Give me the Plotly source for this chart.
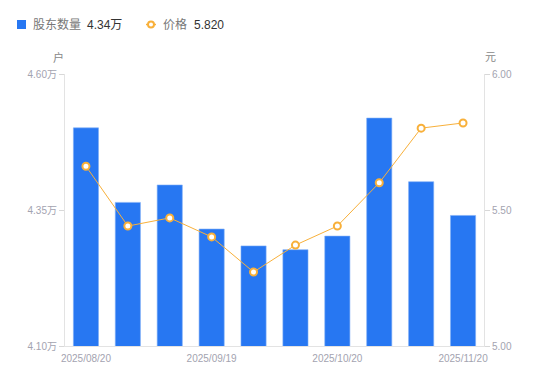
import plotly.graph_objects as go

dates = ["2025/08/20", "2025/08/29", "2025/09/10", "2025/09/19", "2025/09/30",
         "2025/10/10", "2025/10/20", "2025/10/31", "2025/11/10", "2025/11/20"]
holders = [45010, 43640, 43960, 43150, 42840, 42770, 43020, 45190, 44020, 43400]
prices = [5.661, 5.441, 5.471, 5.401, 5.272, 5.371, 5.441, 5.600, 5.801, 5.820]

left_ticks = [41000, 43500, 46000]
left_ticktext = ["4.10万", "4.35万", "4.60万"]
right_ticks = [5.0, 5.5, 6.0]
right_ticktext = ["5.00", "5.50", "6.00"]
x_tickvals = ["2025/08/20", "2025/09/19", "2025/10/20", "2025/11/20"]

FONT = "Liberation Sans, Arial, Noto Sans CJK SC, sans-serif"
BLUE = "#2777F2"
ORANGE = "#F8B03A"

W, H = 550, 381
ML, MR, MT, MB = 65, 66, 74, 35
PW, PH = W - ML - MR, H - MT - MB


def px(x):
    return (x - ML) / PW


def py(y):
    return (H - MB - y) / PH


fig = go.Figure()
fig.add_trace(go.Bar(
    x=dates, y=holders, name="股东数量",
    marker=dict(color=BLUE, line=dict(color="#7FAEF7", width=0.6)),
    yaxis="y",
))
fig.add_trace(go.Scatter(
    x=dates, y=prices, name="价格",
    mode="lines+markers",
    line=dict(color=ORANGE, width=1),
    marker=dict(symbol="circle", size=7, color="white", line=dict(color=ORANGE, width=2)),
    yaxis="y2",
))

axis_common = dict(
    showgrid=False, zeroline=False, showline=True, linecolor="#E3E3E3", linewidth=1,
    ticks="outside", ticklen=5, tickcolor="#D8D8D8", automargin=False,
    tickfont=dict(family=FONT, size=10, color="#A3A3B0"),
)

legend_y = 24.5
shapes = [
    dict(type="rect", xref="paper", yref="paper", x0=px(17), x1=px(26),
         y0=py(legend_y - 4.5), y1=py(legend_y + 4.5), fillcolor=BLUE, line=dict(width=0)),
    dict(type="line", xref="paper", yref="paper", x0=px(146), x1=px(156),
         y0=py(legend_y), y1=py(legend_y), line=dict(color=ORANGE, width=1.5)),
    dict(type="circle", xref="paper", yref="paper", x0=px(148), x1=px(154),
         y0=py(legend_y - 3), y1=py(legend_y + 3), fillcolor="white",
         line=dict(color=ORANGE, width=2)),
]


def label(text, x, color, size=12):
    return dict(text=text, xref="paper", yref="paper", x=px(x), y=py(legend_y),
                xanchor="left", yanchor="middle", showarrow=False,
                font=dict(family=FONT, size=size, color=color))


annotations = [
    label("股东数量", 31, "#777777"),
    label("4.34万", 84.5, "#333333"),
    label("价格", 160.5, "#777777"),
    label("5.820", 191.5, "#333333"),
    dict(text="户", xref="paper", yref="paper", x=px(58.5), y=py(57), xanchor="center",
         yanchor="middle", showarrow=False, font=dict(family=FONT, size=11, color="#888888")),
    dict(text="元", xref="paper", yref="paper", x=px(490), y=py(57), xanchor="center",
         yanchor="middle", showarrow=False, font=dict(family=FONT, size=11, color="#888888")),
]

fig.update_layout(
    template="none",
    width=W, height=H,
    margin=dict(l=ML, r=MR, t=MT, b=MB, autoexpand=False),
    paper_bgcolor="white", plot_bgcolor="white",
    bargap=0.4,
    showlegend=False,
    xaxis=dict(type="category", range=[-0.5, len(dates) - 0.5],
               tickmode="array", tickvals=x_tickvals, ticktext=x_tickvals,
               showgrid=False, zeroline=False, showline=True, linecolor="#E3E3E3",
               ticks="", automargin=False, ticklabelstandoff=3,
               tickfont=dict(family=FONT, size=10, color="#A3A3B0")),
    yaxis=dict(range=[41000, 46000], tickmode="array", tickvals=left_ticks,
               ticktext=left_ticktext, **axis_common),
    yaxis2=dict(range=[5.0, 6.0], overlaying="y", side="right", tickmode="array",
                tickvals=right_ticks, ticktext=right_ticktext, **axis_common),
    shapes=shapes,
    annotations=annotations,
)

fig.write_html("out.html", config={"displayModeBar": False},
               post_script="document.body.style.margin='0';document.body.style.overflow='hidden';")
